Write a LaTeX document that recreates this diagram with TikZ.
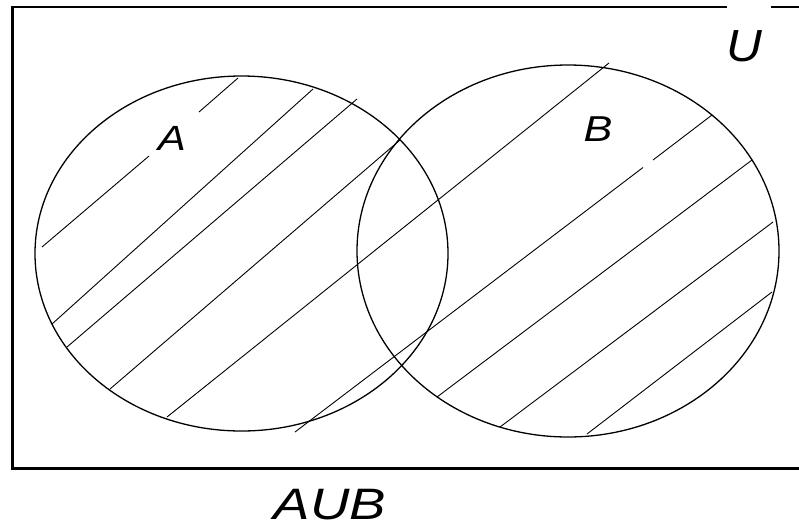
\documentclass[tikz,border=0pt]{standalone}
\usepackage{fontspec}
\setmainfont{Liberation Sans}
\usepackage{graphicx}
\begin{document}
\begin{tikzpicture}[x=1pt,y=-1pt,
  setline/.style={line width=1.3pt},
  hatch/.style={line width=0.9pt},
  frame/.style={line width=2.4pt},
  lbl/.style={inner sep=0pt, font=\itshape}]
\useasboundingbox (0,0) rectangle (799,528);
\fill[white] (0,0) rectangle (799,528);
% universe frame (right side beyond the picture, gap in top edge)
\draw[frame] (799,7) -- (771,7);
\draw[frame] (727,7) -- (12.5,7) -- (12.5,468.5) -- (799,468.5);
% sets
\draw[setline] (241.5,253.5) ellipse [x radius=206.5, y radius=177.5];
\draw[setline] (568,251) ellipse [x radius=211, y radius=186];
% hatching
\draw[hatch] (42,247) -- (149,156);
\draw[hatch] (199,112) -- (238,78);
\draw[hatch] (313,89) -- (52,324);
\draw[hatch] (357,99) -- (67,347);
\draw[hatch] (400,140) -- (110,389);
\draw[hatch] (609,63) -- (167,417);
\draw[hatch] (712,115) -- (653,160);
\draw[hatch] (643,167.5) -- (295,432);
\draw[hatch] (752,160) -- (437,397);
\draw[hatch] (773,222) -- (500,427);
\draw[hatch] (772,292) -- (587,434);
% labels
\node[lbl] (labA) at (172,138) {\fontsize{35}{40}\selectfont\scalebox{1.2}[1]{A}};
\node[lbl] (labB) at (598,129.5) {\fontsize{36}{40}\selectfont\scalebox{1.2}[1]{B}};
\node[lbl] (labU) at (744,46) {\fontsize{45}{50}\selectfont\scalebox{1.1}[1]{U}};
\node[lbl] (labAUB) at (330,505) {\fontsize{44}{48}\selectfont\scalebox{1.24}[1]{AUB}};
\end{tikzpicture}
\end{document}
